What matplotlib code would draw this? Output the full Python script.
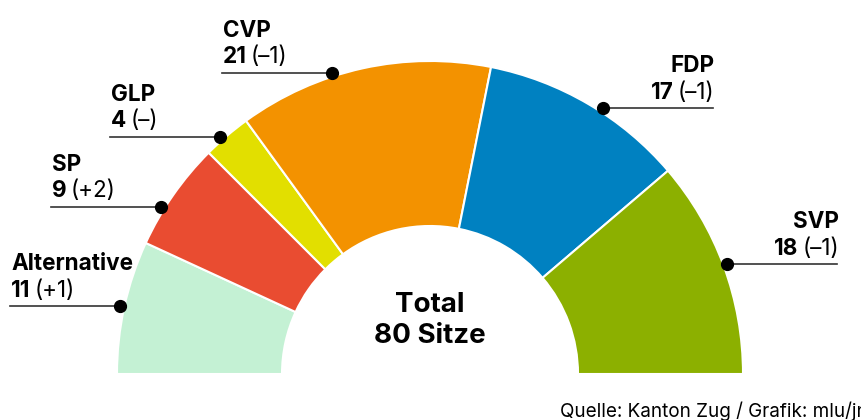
import numpy as np
import matplotlib.pyplot as plt
from matplotlib.patches import Wedge

# Sitzverteilung Kantonsrat Zug
parties = ["Alternative", "SP", "GLP", "CVP", "FDP", "SVP"]
seats = [11, 9, 4, 21, 17, 18]
changes = ["(+1)", "(+2)", "(–)", "(–1)", "(–1)", "(–1)"]
colors = ["#c4f1d4", "#e94c31", "#e2df00", "#f39200", "#0081c1", "#8cb000"]
total_label = "Total\n80 Sitze"
source = "Quelle: Kanton Zug / Grafik: mlu/jn"

plt.rcParams["font.family"] = ["Inter", "DejaVu Sans"]

fig = plt.figure(figsize=(8.62, 4.2), dpi=100)
ax = fig.add_axes([0, 0, 1, 1])
ax.set_xlim(0, 862)
ax.set_ylim(0, 420)
ax.axis("off")

cx, cy = 430, 46
r_out, r_in = 313, 148
total = sum(seats)
fs = 16.2

# label layout: angle shift of the dot inside the segment (degrees)
dot_shift = [0, 3, 1, 5.7, -2.6, 0]
line_len = 110

start = 180.0
for name, n, ch, col, shift in zip(parties, seats, changes, colors, dot_shift):
    span = n / total * 180
    end = start - span
    ax.add_patch(Wedge((cx, cy), r_out, end, start, width=r_out - r_in,
                       facecolor=col, edgecolor="white", linewidth=1.5))
    mid = np.deg2rad((start + end) / 2 + shift)
    dx = cx + (r_out + 4) * np.cos(mid)
    dy = cy + (r_out + 4) * np.sin(mid)
    left = np.cos(mid) < 0
    x2 = dx - line_len if left else dx + line_len
    ax.plot([x2, dx], [dy, dy], color="#333333", lw=1.2, zorder=3)
    ax.plot(dx, dy, "o", color="black", ms=8.5, zorder=4)

    ha = "left" if left else "right"
    ax.text(x2 + (1 if left else 2), dy + 36, name, ha=ha, va="baseline",
            fontsize=fs, fontweight="bold", color="black")
    if left:
        t = ax.text(x2 + 1, dy + 9.5, str(n), ha="left", va="baseline",
                    fontsize=fs, fontweight="bold", color="black")
        ax.annotate(ch, xy=(1, 0), xycoords=t, xytext=(3, 0),
                    textcoords="offset points", ha="left", va="bottom",
                    fontsize=fs, color="black")
    else:
        t = ax.text(x2 + 2, dy + 9.5, ch, ha="right", va="baseline",
                    fontsize=fs, color="black")
        ax.annotate(str(n), xy=(0, 0), xycoords=t, xytext=(-3, 0),
                    textcoords="offset points", ha="right", va="bottom",
                    fontsize=fs, fontweight="bold", color="black")
    start = end

for line, yb in zip(total_label.split("\n"), [108, 77]):
    ax.text(cx, yb, line, ha="center", va="baseline", fontsize=20,
            fontweight="bold", color="black")
ax.text(560, 3, source, ha="left", va="baseline", fontsize=13.6, color="black")

fig.savefig("out.png", dpi=100)
